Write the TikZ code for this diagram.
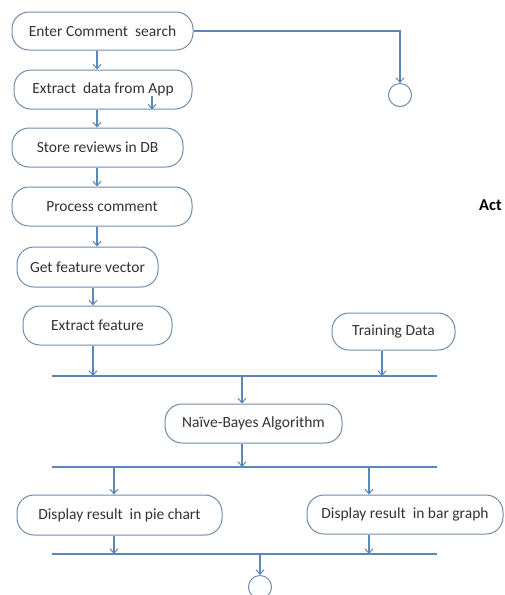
\documentclass[tikz,border=0pt]{standalone}
\usepackage{fontspec}
\setmainfont{Carlito}
\usetikzlibrary{arrows.meta}
\definecolor{boxline}{HTML}{6F8CAD}
\definecolor{conn}{HTML}{5A87BA}
\definecolor{txt}{HTML}{333333}
\tikzset{
  act/.style={draw=boxline, line width=1pt, rounded corners=17pt, inner sep=0pt,
    text=txt, font=\fontsize{15.5}{18}\selectfont, align=center},
  arr/.style={draw=conn, line width=1.1pt, -{Straight Barb[length=4.5pt,width=8pt,line width=1pt]}},
  bar/.style={draw=conn, line width=1.4pt},
  endcirc/.style={draw=boxline, line width=1pt, circle, minimum size=23pt, inner sep=0pt},
}
\begin{document}
\begin{tikzpicture}[x=1pt,y=-1pt]
\useasboundingbox (0,0) rectangle (504,595);
\fill[white] (0,0) rectangle (504,595);

% activity nodes
\node[act, minimum width=181pt, minimum height=38pt] (n1) at (102.5,31) {Enter Comment\ \ search};
\node[act, minimum width=178pt, minimum height=39pt] (n2) at (103,89.5) {Extract\ \ data from App};
\node[act, minimum width=171pt, minimum height=39pt] (n3) at (97.5,147.5) {Store reviews in DB};
\node[act, minimum width=180pt, minimum height=39pt] (n4) at (102,206.5) {Process comment};
\node[act, minimum width=141pt, minimum height=40pt] (n5) at (87.5,267) {Get feature vector};
\node[act, minimum width=149pt, minimum height=39pt] (n6) at (97.5,325.5) {Extract feature};
\node[act, minimum width=123pt, minimum height=37pt] (td) at (393.5,331.5) {Training Data};
\node[act, minimum width=177pt, minimum height=39pt] (nb) at (253.5,423.5) {Naïve-Bayes Algorithm};
\node[act, minimum width=205pt, minimum height=40pt] (pie) at (119.5,515) {Display result\ \ in pie chart};
\node[act, minimum width=196pt, minimum height=39pt] (bg) at (405,514.5) {Display result\ \ in bar graph};

% end nodes
\node[endcirc] (endA) at (400,95) {};
\node[endcirc] (endB) at (260,587) {};

% side label
\node[anchor=base west, inner sep=0pt, text=black, font=\fontsize{16.5}{19}\selectfont\bfseries] (lbl) at (479,210) {Act};

% bars
\coordinate (bL1) at (52,376);  \coordinate (bR1) at (437,376);
\coordinate (bL2) at (52,467);  \coordinate (bR2) at (437,467);
\coordinate (bL3) at (52,554);  \coordinate (bR3) at (437,554);
\draw[bar] (bL1) -- (bR1);
\draw[bar] (bL2) -- (bR2);
\draw[bar] (bL3) -- (bR3);

% connector columns
\coordinate (cA) at (97,0);
\coordinate (cB) at (93,0);
\coordinate (cC) at (382,0);
\coordinate (cD) at (242,0);
\coordinate (cE) at (114,0);
\coordinate (cF) at (369,0);
\coordinate (cS) at (152,96);

% connectors
\draw[arr] (n1.east) -| (endA.north);
\draw[arr] (cA |- n1.south) -- (cA |- n2.north);
\draw[arr] (cA |- n2.south) -- (cA |- n3.north);
\draw[arr] (cS) -- (cS |- n2.south);
\draw[arr] (cA |- n3.south) -- (cA |- n4.north);
\draw[arr] (cA |- n4.south) -- (cA |- n5.north);
\draw[arr] (cB |- n5.south) -- (cB |- n6.north);
\draw[arr] (cB |- n6.south) -- (cB |- bL1);
\draw[arr] (cC |- td.south) -- (cC |- bL1);
\draw[arr] (cD |- bL1) -- (cD |- nb.north);
\draw[arr] (cD |- nb.south) -- (cD |- bL2);
\draw[arr] (cE |- bL2) -- (cE |- pie.north);
\draw[arr] (cF |- bL2) -- (cF |- bg.north);
\draw[arr] (cE |- pie.south) -- (cE |- bL3);
\draw[arr] (cF |- bg.south) -- (cF |- bL3);
\draw[arr] (endB.north |- bL3) -- (endB.north);
\end{tikzpicture}
\end{document}
